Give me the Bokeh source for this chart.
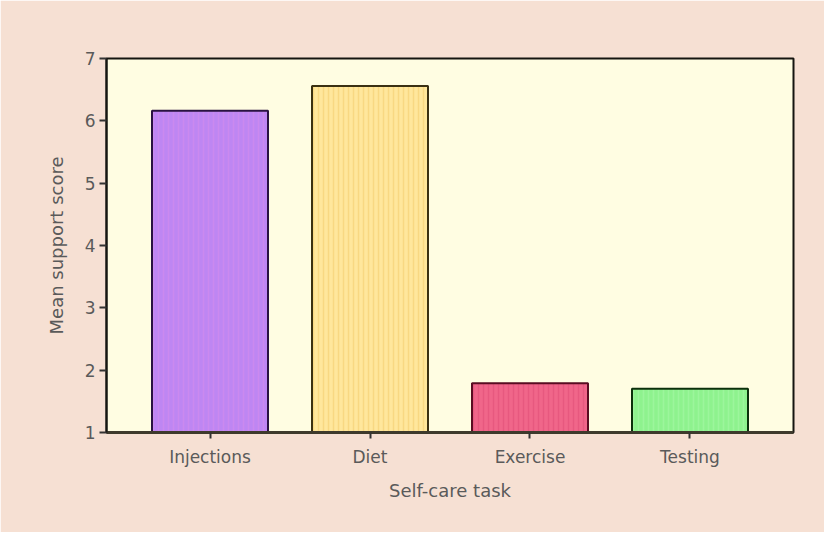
from bokeh.plotting import figure
from bokeh.models import FactorRange, Range1d, FixedTicker, ColumnDataSource
from bokeh.embed import file_html
from bokeh.resources import INLINE

# ---- data ----
categories = ["Injections", "Diet", "Exercise", "Testing"]
mean_scores = [6.16, 6.56, 1.79, 1.70]
y_ticks = [1, 2, 3, 4, 5, 6, 7]

fill_colors = ["#BE86F3", "#FFE79C", "#F0668A", "#8EF28E"]
stripe_colors = ["#D68CEB", "#F2CC6E", "#E04C76", "#A8F8A8"]
line_colors = ["#2A1242", "#3A3012", "#5A0C22", "#0C300C"]

src = ColumnDataSource(dict(
    cat=categories, top=mean_scores, bottom=[y_ticks[0]] * len(categories),
    fill=fill_colors, stripe=stripe_colors, line=line_colors,
))

p = figure(
    width=824, height=532,
    x_range=FactorRange(factors=categories, range_padding=0.147,
                        range_padding_units="absolute"),
    y_range=Range1d(y_ticks[0], y_ticks[-1]),
    output_backend="svg", toolbar_location=None,
    min_border_left=106, min_border_right=31,
    min_border_top=58, min_border_bottom=100,
)

p.background_fill_color = "#FFFDE2"
p.border_fill_color = "#F6E0D3"
p.outline_line_color = "#151510"
p.outline_line_width = 2

p.vbar(x="cat", top="top", bottom="bottom", width=0.725, source=src,
       fill_color="fill", line_color="line", line_width=2,
       hatch_pattern="vertical_line", hatch_color="stripe",
       hatch_alpha=0.55, hatch_scale=5, hatch_weight=1.5)

p.xgrid.grid_line_color = None
p.ygrid.grid_line_color = None

font = "DejaVu Sans"
label_color = "#5A5A5A"

p.yaxis.ticker = FixedTicker(ticks=y_ticks)
p.yaxis.minor_tick_line_color = None
p.yaxis.major_tick_in = 0
p.yaxis.major_tick_out = 7
p.yaxis.major_tick_line_color = "#333333"
p.yaxis.major_tick_line_width = 2
p.yaxis.axis_line_color = "#151510"
p.yaxis.axis_line_width = 2
p.yaxis.major_label_standoff = 4
p.yaxis.major_label_text_font = font
p.yaxis.major_label_text_font_size = "17px"
p.yaxis.major_label_text_color = label_color
p.yaxis.axis_label = "Mean support score"
p.yaxis.axis_label_standoff = 15
p.yaxis.axis_label_text_font = font
p.yaxis.axis_label_text_font_size = "18px"
p.yaxis.axis_label_text_font_style = "normal"
p.yaxis.axis_label_text_color = label_color

p.xaxis.major_tick_in = 0
p.xaxis.major_tick_out = 6
p.xaxis.major_tick_line_color = "#333333"
p.xaxis.major_tick_line_width = 2
p.xaxis.axis_line_color = "#3E3A2C"
p.xaxis.axis_line_width = 3
p.xaxis.major_label_standoff = 8
p.xaxis.major_label_text_font = font
p.xaxis.major_label_text_font_size = "17px"
p.xaxis.major_label_text_color = label_color
p.xaxis.axis_label = "Self-care task"
p.xaxis.axis_label_standoff = 10
p.xaxis.axis_label_text_font = font
p.xaxis.axis_label_text_font_size = "18px"
p.xaxis.axis_label_text_font_style = "normal"
p.xaxis.axis_label_text_color = label_color

open("out.html", "w").write(file_html(p, INLINE))
